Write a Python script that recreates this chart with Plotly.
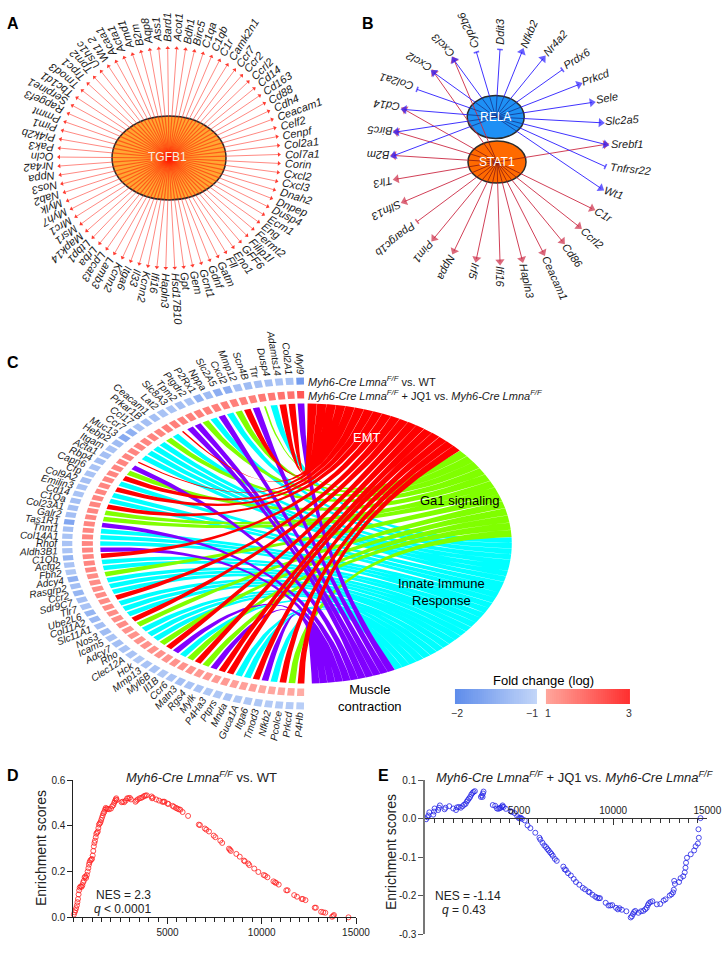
import numpy as np
import plotly.graph_objects as go

# ---------- data ----------
A_genes = ["Acot1","Bdh1","Birc5","C1qa","C1qb","C1r","Camk2n1","Ccr7","Ccr2","Ccrl2","Cd14","Cd163","Cd88","Cdh4",
 "Ceacam1","Celf2","Cenpf","Col2a1","Col7a1","Corin","Cxcl2","Cxcl3","Dnah2","Dnpep","Dusp4","Ecm1","Eng","Fermt2",
 "Filip1l","GFF6","Eno1","Fll","Gatm","Gdnf","Gcnt1","Gem","Gpt","Hsd17B10","Hapln3","Ifi16","Kcnn2","Il33","Itga6",
 "Kcnn2","Lamb3","Lpcat3","Lrba","Ltbp1","Mapk14","Msr1","Mrc1","Myh7","Mylk","Nab2","Nos3","Nppa","Nr4a2","Ocln",
 "Pak3","Pi4k2b","Pim1","Pmmt","Rapgef3","Serpine1","Tbc1d1","Tmod3","Trpc1","Tpm2","Ush1c","Wt1 2","Acaa1","Acta1",
 "Amd1","B2m","Aqp8","Ass1","Bard1"]

B_right = ["Ddit3","Nfkb2","Nr4a2","Prdx6","Prkcd","Sele","Slc2a5","Srebf1","Tnfrsr22","Wt1","C1r","Ccrl2","Cd86","Ceacam1","Hapln3"]
B_left = ["Ifi16","Irf5","Nppa","Pim1","Ppargc1b","Slfn13","Tlr3","B2m","Birc5","Cd14","Col2a1","Cxcl2","Cxcl3","Cyp2b6"]
RELA_targets = ["Cxcl3","Cyp2b6","Ddit3","Nfkb2","Nr4a2","Prdx6","Prkcd","Sele","Slc2a5","Srebf1","Tnfrsr22","Wt1","Cd14","Birc5","B2m","Col2a1","Cxcl2"]
STAT1_targets = ["Srebf1","C1r","Ccrl2","Cd86","Ceacam1","Hapln3","Ifi16","Irf5","Nppa","Pim1","Ppargc1b","Slfn13","Tlr3","B2m","Birc5","Cd14","Cxcl2","Cxcl3"]
B_bar_genes = ["Ddit3","Prdx6","Tnfrsr22","Col2a1","Cyp2b6","Ppargc1b"]

C_genes = ["Myl9","Col2A1","Adamts14","Dusp4","Ttr","Scn4B","Mmp12","Cxcl2","Slc2A5","Nppa","P2Rx1","Ptgdr2","Tpm2","Slc8A3",
 "Lat2","Ceacam1","Prkar1B","Ccl17","Ccr7","Muc13","Hebp2","Itgam","Acta1","Rbp4","Capn6","Cfp","Col9A2","Emilin3","Cd14",
 "C1Qa","Col23A1","Galr2","Tas1R1","Tnnt1","Col14A1","Rhof","Aldh3B1","C1Qb","Actg2","Fbn2","Adcy4","Rasgrp2","Ccr2","Sdr9C7",
 "Tlr7","Ube2L6","Col11A2","Slc11A1","Nos3","Icam5","Adcy7","Rho","Clec12A","Hck","Mmp13","Myl6B","Il1B","Ccr6","Matn3","Rgs4",
 "Mylk","P4Ha3","Ptprs","Mnda","Guca1A","Itga6","Tmod3","Nfkb2","Pcolce","Prkcd","P4Hb"]
C_terms = list("MEEIGMEGIMIGMMEIGIIIIEMGEIEIIEGGMIIIMEIIGIIIEIIIEGIIIGEMIGEGMEEIIEMIEGE")
C_thin = ["Ttr","Lat2","Itgam"]
C_fc_wt = [-1.8,-1.25,-1.25,-1.3,-1.3,-1.35,-1.3,-1.55,-1.55,-1.35,-1.5,-1.25,-1.3,-1.25,-1.25,-1.3,-1.3,-1.25,-1.5,-1.6,
 -1.35,-1.25,-1.3,-1.3,-1.25,-1.25,-1.3,-1.25,-1.25,-1.3,-1.3,-1.3,-1.65,-1.3,-1.25,-1.25,-1.25,-1.45,-1.25,-1.2,-1.5,-1.3,
 -1.45,-1.3,-1.25,-1.45,-1.4,-1.3,-1.35,-1.25,-1.3,-1.25,-1.25,-1.2,-1.25,-1.25,-1.2,-1.25,-1.3,-1.25,-1.25,-1.2,-1.2,-1.25,
 -1.2,-1.2,-1.2,-1.15,-1.15,-1.15,-1.1]
C_fc_jq1 = [2.4,2.0,2.0,1.9,1.9,1.8,1.8,1.8,1.8,1.8,1.8,1.8,1.8,1.8,1.8,1.8,1.7,1.7,1.7,1.7,1.7,1.7,1.7,1.7,1.7,1.7,1.7,1.7,
 1.7,1.7,1.7,1.7,1.7,1.7,1.7,1.7,1.7,1.7,1.7,1.7,1.6,1.6,1.6,1.6,1.6,1.6,1.6,1.6,1.6,1.5,1.5,1.5,1.5,1.5,1.5,1.5,1.5,1.5,
 1.5,1.4,1.4,1.4,1.4,1.3,1.3,1.3,1.2,1.2,1.2,1.2,1.1]
C_term_names = {"E":"EMT","G":"Ga1 signaling","I":"Innate Immune Response","M":"Muscle contraction"}
C_term_order = ["E","G","I","M"]
C_term_span = {"E":48,"G":39,"I":67,"M":24}
C_term_color = {"E":"#ff0000","G":"#80ff00","I":"#00ffff","M":"#8000ff"}

D_x = [30,70,110,150,190,220,250,280,310,340,390,440,480,520,560,600,640,680,720,760,800,830,860,900,950,990,1030,1060,1090,1120,
 1150,1190,1220,1260,1300,1330,1360,1400,1440,1480,1520,1560,1600,1640,1680,1720,1770,1830,1900,2000,2060,2120,2170,2210,2250,2280,2300,
 2560,2620,2700,2780,2860,2920,3000,3060,3300,3350,3420,3520,3600,3680,3760,3830,3900,4150,4180,4220,4400,4550,4720,4780,4840,5000,5050,
 5270,5340,5450,5520,5600,5680,5800,6090,6660,6720,6980,7060,7200,7450,7540,7800,7900,8260,8310,8360,8650,8830,9050,9100,9280,9340,9600,
 9820,10100,10180,10300,10620,10700,10760,10900,11300,11370,11720,11870,12120,12180,12320,12810,12870,13150,13260,13370,13730,13790,13830,
 13800,14160,14370,14580,14600]
D_y = [.012,.022,.03,.04,.052,.066,.08,.1,.118,.13,.135,.133,.14,.152,.16,.175,.178,.172,.185,.2,.215,.23,.24,.248,.252,.255,.27,.29,.31,.325,
 .335,.35,.365,.37,.375,.39,.405,.41,.415,.425,.435,.445,.455,.46,.47,.478,.475,.473,.472,.475,.485,.49,.5,.508,.515,.52,.512,
 .503,.505,.503,.51,.52,.52,.522,.515,.505,.51,.515,.52,.522,.525,.53,.532,.533,.528,.52,.523,.515,.51,.505,.505,.505,.497,.495,
 .487,.483,.478,.475,.472,.47,.46,.443,.405,.403,.388,.383,.375,.357,.35,.335,.325,.3,.295,.29,.277,.265,.248,.245,.235,.228,.213,
 .198,.185,.182,.175,.157,.153,.15,.143,.118,.118,.097,.09,.08,.08,.075,.042,.042,.024,.022,.02,.002,.006,.01,
 -.004,-.008,-.008,-.014,0]

E_x = [60,130,180,230,440,480,510,700,740,790,1040,1090,1290,1500,1650,1700,1800,1900,2000,2080,2160,2220,2280,2340,2400,2460,2520,2580,2650,
 2970,3020,3060,3080,3110,3600,3730,3820,3900,3970,4020,4090,4120,4180,4300,4550,4620,4760,4900,4980,5040,5090,5150,5300,5450,5600,5860,
 6080,6130,6240,6340,6430,6500,6570,6650,6720,6790,6900,7000,7350,7420,7490,7600,7750,7900,8020,8200,8380,8500,8680,8750,8900,9050,9150,
 9240,9300,9600,9750,9850,9950,10150,10250,10330,10460,10700,10930,10990,11050,11110,11170,11340,11480,11600,11700,11780,11840,11900,
 11980,12080,12320,12500,12680,12780,13000,13100,13180,13220,13240,13280,13500,13580,13720,13800,13840,13870,13920,14120,14300,14380,
 14500,14550,14530,14640]
E_y = [-.002,.003,.008,.016,.01,.018,.026,.022,.028,.034,.024,.028,.032,.026,.022,.029,.03,.028,.032,.036,.038,.044,.048,.052,.056,.062,.066,.069,.071,
 .056,.06,.056,.065,.07,.035,.033,.026,.025,.027,.028,.031,.034,.03,.025,.019,.017,.014,.006,.001,.001,.002,-.001,-.005,-.018,-.025,-.037,
 -.05,-.055,-.063,-.07,-.074,-.079,-.083,-.088,-.092,-.097,-.105,-.11,-.125,-.132,-.134,-.142,-.148,-.157,-.165,-.172,-.18,-.184,-.19,-.192,-.198,-.203,-.206,
 -.207,-.207,-.219,-.226,-.226,-.225,-.232,-.236,-.233,-.237,-.241,-.257,-.254,-.248,-.243,-.24,-.245,-.241,-.24,-.236,-.232,-.225,-.22,
 -.217,-.215,-.223,-.222,-.213,-.21,-.2,-.197,-.192,-.185,-.162,-.17,-.165,-.155,-.15,-.14,-.128,-.115,-.102,-.093,-.083,-.072,
 -.065,-.05,-.028,.001]

TITLE_D = "<i>Myh6-Cre Lmna<sup>F/F</sup></i> vs. WT"
TITLE_E = "<i>Myh6-Cre Lmna<sup>F/F</sup></i> + JQ1 vs. <i>Myh6-Cre Lmna<sup>F/F</sup></i>"

# ---------- helpers ----------
W, H = 723, 954
FONT = "Liberation Sans"
fig = go.Figure()
ann = []
shapes = []

def text(x, y, s, size=11, color="black", angle=0, bold=False, xanchor="center"):
    if bold:
        s = f"<b>{s}</b>"
    ann.append(dict(x=x, y=y, xref="x", yref="y", text=s, showarrow=False, textangle=angle, xanchor=xanchor,
                    yanchor="middle", borderpad=0, font=dict(family=FONT, size=size, color=color)))

def em(s):
    w = 0
    for ch in s:
        if ch in "ijl": w += .222
        elif ch in "ftI ": w += .278
        elif ch in "r-": w += .333
        elif ch in "sckvxyzJ": w += .5
        elif ch == "m": w += .833
        elif ch == "w": w += .722
        elif ch in "MW": w += .85
        elif ch in "CDHNUR": w += .722
        elif ch in "GOQ": w += .778
        elif ch in "LTFZ": w += .6
        elif ch.isupper(): w += .667
        else: w += .556
    return w

def lines(xs, ys, color, width, **kw):
    fig.add_trace(go.Scatter(x=xs, y=ys, mode="lines", line=dict(color=color, width=width), hoverinfo="skip", **kw))

def ellipse(cx, cy, rx, ry, fill, line="#2b2b2b", lw=1.5):
    shapes.append(dict(type="circle", xref="x", yref="y", x0=cx-rx, x1=cx+rx, y0=cy-ry, y1=cy+ry,
                       fillcolor=fill, line=dict(color=line, width=lw), layer="below"))

def seg(ax, ay, bx, by, store):
    store[0].extend([ax, bx, None])
    store[1].extend([ay, by, None])

# ---------- panel A ----------
ax0, ay0, arx, ary, a_r = 169, 158, 57, 42, 110
ellipse(ax0, ay0, arx, ary, "#ffa733")
inner, outer = ([], []), ([], [])
tx, ty, ta = [], [], []
for i, g in enumerate(A_genes):
    th = np.radians(4 + i*360/len(A_genes))
    sx, cy = np.sin(th), -np.cos(th)
    rb = 1/np.hypot(sx/arx, cy/ary)
    seg(ax0, ay0, ax0+rb*sx, ay0+rb*cy, inner)
    seg(ax0+rb*sx, ay0+rb*cy, ax0+a_r*sx, ay0+a_r*cy, outer)
    tx.append(ax0+a_r*sx); ty.append(ay0+a_r*cy); ta.append(float(np.degrees(th)))
    w = em(g)*11
    rr = a_r + 6 + w/2
    text(ax0+rr*sx, ay0+rr*cy, f"<i>{g}</i>", size=11, color="#1a1a1a", angle=float(np.degrees(th)-90))
lines(*inner, "rgba(255,30,0,0.55)", 1.2)
lines(*outer, "rgba(255,80,70,0.85)", 0.8)
fig.add_trace(go.Scatter(x=tx, y=ty, mode="markers", hoverinfo="skip",
    marker=dict(symbol="triangle-up", size=4, color="#ff3b30", angle=ta)))
text(167, 157, "TGFB1", size=12, color="#f5f0e0")

# ---------- panel B ----------
b0x, b0y, b_r = 500, 155.5, 106
rela = (495.7, 117, 28.5, 21.5)
stat = (497, 162, 29, 21)
ellipse(*rela, "#1e90f5", lw=1.5)
ellipse(*stat, "#ff6a00", lw=1.5)
b_pos = {}
for i, g in enumerate(B_right):
    b_pos[g] = 180*i/len(B_right)
for i, g in enumerate(B_left):
    b_pos[g] = 180 + 180*i/len(B_left)

def b_edges(node, targets, col, col_in, symbol_size):
    ins, outs = ([], []), ([], [])
    mx, my, ma, ms, ml = [], [], [], [], []
    for g in targets:
        th = np.radians(b_pos[g])
        ex, ey = b0x + b_r*np.sin(th), b0y - b_r*np.cos(th)
        dx, dy = ex-node[0], ey-node[1]
        d = np.hypot(dx, dy)
        rb = 1/np.hypot(dx/d/node[2], dy/d/node[3])
        bx, by = node[0]+rb*dx/d, node[1]+rb*dy/d
        seg(node[0], node[1], bx, by, ins)
        seg(bx, by, ex, ey, outs)
        mx.append(ex); my.append(ey)
        ma.append(float(np.degrees(np.arctan2(dx, -dy))))
        ms.append("line-ew" if g in B_bar_genes else "triangle-up")
        ml.append(g in B_bar_genes)
    lines(*ins, col_in, 0.8)
    lines(*outs, col, 0.9)
    fig.add_trace(go.Scatter(x=mx, y=my, mode="markers", hoverinfo="skip",
        marker=dict(symbol=ms, size=[4 if b else symbol_size for b in ml], color=col, angle=ma,
                    line=dict(color=col, width=[1.6 if b else 0 for b in ml]))))

b_edges(stat, STAT1_targets, "#cc2a44", "#8c1a10", 8)
b_edges(rela, RELA_targets, "#2a1cff", "#14348c", 8)

for g, deg in b_pos.items():
    th = np.radians(deg)
    sx, cy = np.sin(th), -np.cos(th)
    ex, ey = b0x + (b_r+5)*sx, b0y + (b_r+5)*cy
    direc = deg - 90                      # clockwise from +x
    if cy < 0:                            # upper half: labels flatten towards horizontal
        e = abs(90 - deg) if deg <= 180 else abs(deg - 270)
        flat = e*e/90
        rot = -flat if deg <= 180 else 180 + flat
    else:
        rot = direc
    w = em(g)*11
    rr = np.radians(rot)
    text(ex + np.cos(rr)*w/2, ey + np.sin(rr)*w/2, f"<i>{g}</i>", size=11, color="#1a1a1a", angle=float(rot))
text(*rela[:2], "RELA", size=12, color="white")
text(*stat[:2], "STAT1", size=12, color="white")

# ---------- panel C ----------
c_x, c_y, c_k, k_rib = 306, 543.5, 1.47, 140
n_c = len(C_genes)
g_step = 177.2/(n_c-1)

def ell(deg, k, side=-1):
    t = np.radians(deg)
    return c_x + side*c_k*k*np.sin(t), c_y - k*np.cos(t)

term_start = {}
pos = 0.4
for t in C_term_order:
    term_start[t] = pos
    pos += C_term_span[t]

poly = {t: ([], []) for t in C_term_order}
seen = {t: 0 for t in C_term_order}
counts = {t: C_terms.count(t) for t in C_term_order}
u = np.linspace(0, 1, 28)
for i, (g, t) in enumerate(zip(C_genes, C_terms)):
    mid = 1.4 + i*g_step
    hw = (0.1 if g in C_thin else 0.37)*g_step
    g1, g2 = mid-hw, mid+hw
    slot = C_term_span[t]/counts[t]
    t1 = term_start[t] + seen[t]*slot + 0.015*slot
    t2 = term_start[t] + (seen[t]+1)*slot - 0.015*slot
    seen[t] += 1
    a1 = ell(g1, k_rib); a2 = ell(g2, k_rib)
    b1 = ell(t1, k_rib, 1); b2 = ell(t2, k_rib, 1)
    e1x = (1-u)**2*a1[0] + 2*u*(1-u)*c_x + u**2*b1[0]
    e1y = (1-u)**2*a1[1] + 2*u*(1-u)*c_y + u**2*b1[1]
    e2x = (1-u)**2*b2[0] + 2*u*(1-u)*c_x + u**2*a2[0]
    e2y = (1-u)**2*b2[1] + 2*u*(1-u)*c_y + u**2*a2[1]
    arc = np.linspace(t1, t2, 6)
    ax_, ay_ = ell(arc, k_rib, 1)
    xs = list(e1x) + list(ax_) + list(e2x) + [a1[0], None]
    ys = list(e1y) + list(ay_) + list(e2y) + [a1[1], None]
    poly[t][0].extend(xs); poly[t][1].extend(ys)

for t in ["I", "G", "M", "E"]:
    fig.add_trace(go.Scatter(x=poly[t][0], y=poly[t][1], mode="lines", fill="toself", fillcolor=C_term_color[t],
                             line=dict(width=0, color=C_term_color[t]), hoverinfo="skip"))

def mix(c0, c1, f):
    f = float(np.clip(f, 0, 1))
    return "rgb(%d,%d,%d)" % tuple(round(a+(b-a)*f) for a, b in zip(c0, c1))

BLUE_LO, BLUE_HI = (95, 141, 235), (194, 213, 248)
RED_LO, RED_HI = (255, 179, 171), (255, 48, 48)

def block(deg, k0, k1, col):
    hw = 0.36*g_step
    a = np.linspace(deg-hw, deg+hw, 4)
    x0, y0 = ell(a, k0); x1, y1 = ell(a[::-1], k1)
    fig.add_trace(go.Scatter(x=list(x0)+list(x1)+[x0[0]], y=list(y0)+list(y1)+[y0[0]], mode="lines", fill="toself",
                             fillcolor=col, line=dict(width=0, color=col), hoverinfo="skip"))

for i, g in enumerate(C_genes):
    mid = 1.4 + i*g_step
    block(mid, 145, 152.5, mix(RED_LO, RED_HI, (C_fc_jq1[i]-1)/2))
    block(mid, 159, 166, mix(BLUE_LO, BLUE_HI, C_fc_wt[i]+2))
    ex, ey = ell(mid, 169)
    dx, dy = ex-c_x, ey-c_y
    d = np.hypot(dx, dy)
    dx, dy = -dx/d, -dy/d                  # reading direction points to the centre
    rot = float(np.degrees(np.arctan2(dy, dx)))
    w = em(g)*10
    text(ex - dx*w/2, ey - dy*w/2, f"<i>{g}</i>", size=10, color="#1a1a1a", angle=rot)

text(306.5, 380.7, "<i>Myh6-Cre Lmna<sup>F/F</sup></i> vs. WT", size=11, xanchor="left", color="#1a1a1a")
text(306.5, 395, "<i>Myh6-Cre Lmna<sup>F/F</sup></i> + JQ1 vs. <i>Myh6-Cre Lmna<sup>F/F</sup></i>", size=11, xanchor="left", color="#1a1a1a")
text(367, 437, "EMT", size=13, color="white")
text(460, 500, "Ga1 signaling", size=13)
text(441, 592, "Innate Immune<br>Response", size=13)
text(370, 698, "Muscle<br>contraction", size=13)

# fold change bars
steps_b = np.linspace(-2, -1, 40)
steps_r = np.linspace(1, 3, 40)
fig.add_trace(go.Heatmap(z=[steps_b, steps_b], x=np.linspace(456, 536, 40), y=[692.75, 700.25], zmin=-2, zmax=-1, showscale=False,
    colorscale=[[0, "rgb(95,141,235)"], [1, "rgb(194,213,248)"]], hoverinfo="skip"))
fig.add_trace(go.Heatmap(z=[steps_r, steps_r], x=np.linspace(547, 629, 40), y=[692.75, 700.25], zmin=1, zmax=3, showscale=False,
    colorscale=[[0, "rgb(255,165,155)"], [1, "rgb(255,48,48)"]], hoverinfo="skip"))
text(543, 680, "Fold change (log)", size=13)
text(457, 713, "\u22122", size=10.5, color="#333")
text(532, 713, "\u22121", size=10.5, color="#333")
text(548, 713, "1", size=10.5, color="#333")
text(629, 713, "3", size=10.5, color="#333")

# panel letters
for s, x, y in [("A", 13, 23), ("B", 368, 23), ("C", 13, 362), ("D", 13, 775), ("E", 383, 775)]:
    text(x, y, s, size=16, bold=True)

# texts of D / E
text(201, 777, TITLE_D, size=13, color="#222")
text(574, 777, TITLE_E, size=13, color="#222")
text(123, 895, "NES = 2.3", size=12, color="#222")
text(122, 909, "<i>q</i> < 0.0001", size=12, color="#222")
text(468, 896, "NES = -1.14", size=12, color="#222")
text(464, 910, "<i>q</i> = 0.43", size=12, color="#222")
text(41, 848, "Enrichment scores", size=14, angle=-90, color="#222")
text(391, 852, "Enrichment scores", size=14, angle=-90, color="#222")

# ---------- panels D, E ----------
fig.add_trace(go.Scatter(x=D_x, y=D_y, xaxis="x2", yaxis="y2", mode="markers", cliponaxis=False, hoverinfo="skip",
    marker=dict(symbol="circle-open", size=5, color="#ff2020", line=dict(width=0.8, color="#ff2020"))))
fig.add_trace(go.Scatter(x=E_x, y=E_y, xaxis="x3", yaxis="y3", mode="markers", cliponaxis=False, hoverinfo="skip",
    marker=dict(symbol="circle-open", size=5, color="#2222e6", line=dict(width=0.8, color="#2222e6"))))

def dom(a, b):
    return [a/W, b/W]
def vdom(top, bot):
    return [1-bot/H, 1-top/H]

tickfont = dict(family=FONT, size=10, color="#222")
fig.update_layout(
    template="none",
    width=W, height=H, margin=dict(l=0, r=0, t=0, b=0, pad=0, autoexpand=False), paper_bgcolor="white", plot_bgcolor="rgba(0,0,0,0)",
    showlegend=False, annotations=ann, shapes=shapes, font=dict(family=FONT),
    xaxis=dict(range=[0, W], domain=[0, 1], visible=False, fixedrange=True),
    yaxis=dict(range=[H, 0], domain=[0, 1], visible=False, fixedrange=True),
    xaxis2=dict(domain=dom(73.3, 356), range=[0, 15000], anchor="y2", showgrid=False, zeroline=False, showline=True,
                linecolor="#222", linewidth=1, ticks="outside", ticklen=6, tickcolor="#222", tickvals=[5000, 10000, 15000],
                ticktext=["5000", "10000", "15000"], tickfont=tickfont,
                minor=dict(dtick=500, ticks="outside", ticklen=3.5, tickcolor="#222", showgrid=False)),
    yaxis2=dict(domain=vdom(780, 917.3), range=[0, 0.6], anchor="x2", showgrid=False, zeroline=False, showline=True,
                linecolor="#222", linewidth=1, ticks="outside", ticklen=5, tickcolor="#222", tickvals=[0, .2, .4, .6],
                ticktext=["0.0", "0.2", "0.4", "0.6"], tickfont=tickfont),
    xaxis3=dict(domain=dom(425, 707.3), range=[0, 15000], anchor="free", position=1-818.3/H, side="top", showgrid=False, zeroline=False,
                showline=True, linecolor="#333", linewidth=1, ticks="inside", ticklen=6, tickcolor="#333",
                tickvals=[5000, 10000, 15000], ticktext=["5000", "10000", "15000"], tickfont=tickfont,
                minor=dict(dtick=500, ticks="inside", ticklen=3.5, tickcolor="#333", showgrid=False)),
    yaxis3=dict(domain=vdom(780, 934), range=[-0.3, 0.1], anchor="x3", showgrid=False, zeroline=False, showline=True,
                linecolor="#777", linewidth=1.5, ticks="outside", ticklen=5, tickcolor="#555", tickvals=[.1, 0, -.1, -.2, -.3],
                ticktext=["0.1", "0.0", "-0.1", "-0.2", "-0.3"], tickfont=tickfont),
)
fig.write_html("out.html", config=dict(displayModeBar=False),
               post_script="document.body.style.margin='0';document.body.style.overflow='hidden';")
